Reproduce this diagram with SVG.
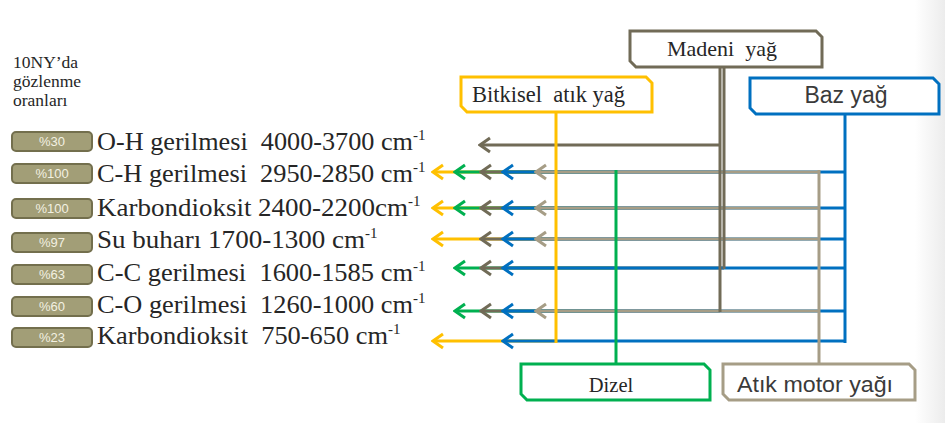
<svg xmlns="http://www.w3.org/2000/svg" width="945" height="423" viewBox="0 0 945 423">
  <defs>
    <style>
      .serif{font-family:"Liberation Serif","Times New Roman",serif;fill:#262626}
      .sans{font-family:"Liberation Sans",Arial,sans-serif;fill:#3a3a3a}
      .lbl{font-size:26px;white-space:pre}
      .sup{font-size:15px}
      .badge rect{fill:#a29e77;stroke:#736f4d;stroke-width:2}
      .badge text{font-family:"Liberation Sans",Arial,sans-serif;font-size:13px;fill:#f3f1e2;text-anchor:middle}
      .box{fill:#ffffff;stroke-width:3}
      .h{fill:none;stroke-width:3}
      .yel{stroke:#ffc000}
      .grn{stroke:#00b050}
      .brn{stroke:#716b57}
      .blu{stroke:#0070c0}
      .bei{stroke:#a69d86}
    </style>
    <marker id="aY" markerUnits="userSpaceOnUse" viewBox="-12 -9 14 18" markerWidth="14" markerHeight="18" refX="0" refY="0" orient="auto"><path d="M-10,-7 L0,0 L-10,7" fill="none" stroke="#ffc000" stroke-width="3"/></marker>
    <marker id="aG" markerUnits="userSpaceOnUse" viewBox="-12 -9 14 18" markerWidth="14" markerHeight="18" refX="0" refY="0" orient="auto"><path d="M-10,-7 L0,0 L-10,7" fill="none" stroke="#00b050" stroke-width="3"/></marker>
    <marker id="aR" markerUnits="userSpaceOnUse" viewBox="-12 -9 14 18" markerWidth="14" markerHeight="18" refX="0" refY="0" orient="auto"><path d="M-10,-7 L0,0 L-10,7" fill="none" stroke="#716b57" stroke-width="3"/></marker>
    <marker id="aB" markerUnits="userSpaceOnUse" viewBox="-12 -9 14 18" markerWidth="14" markerHeight="18" refX="0" refY="0" orient="auto"><path d="M-10,-7 L0,0 L-10,7" fill="none" stroke="#0070c0" stroke-width="3"/></marker>
    <marker id="aE" markerUnits="userSpaceOnUse" viewBox="-12 -9 14 18" markerWidth="14" markerHeight="18" refX="0" refY="0" orient="auto"><path d="M-10,-7 L0,0 L-10,7" fill="none" stroke="#a69d86" stroke-width="3"/></marker>
    <linearGradient id="edge" x1="0" y1="0" x2="1" y2="0">
      <stop offset="0" stop-color="#ffffff"/>
      <stop offset="1" stop-color="#ececec"/>
    </linearGradient>
  </defs>
  <rect x="0" y="0" width="945" height="423" fill="#ffffff"/>
  <rect x="915" y="0" width="30" height="423" fill="url(#edge)"/>

  <g id="header">
    <text class="serif" x="13" y="68" font-size="17.5">10NY’da</text>
    <text class="serif" x="13" y="87" font-size="17.5">gözlenme</text>
    <text class="serif" x="13" y="106" font-size="17.5">oranları</text>
  </g>

  <g id="badges">
    <g class="badge" id="b1"><rect x="12" y="132" width="80" height="19" rx="4"/><text x="52" y="146">%30</text></g>
    <g class="badge" id="b2"><rect x="12" y="164" width="80" height="19" rx="4"/><text x="52" y="178">%100</text></g>
    <g class="badge" id="b3"><rect x="12" y="199" width="80" height="19" rx="4"/><text x="52" y="213">%100</text></g>
    <g class="badge" id="b4"><rect x="12" y="233" width="80" height="19" rx="4"/><text x="52" y="247">%97</text></g>
    <g class="badge" id="b5"><rect x="12" y="265" width="80" height="19" rx="4"/><text x="52" y="279">%63</text></g>
    <g class="badge" id="b6"><rect x="12" y="297" width="80" height="19" rx="4"/><text x="52" y="311">%60</text></g>
    <g class="badge" id="b7"><rect x="12" y="328" width="80" height="19" rx="4"/><text x="52" y="342">%23</text></g>
  </g>

  <g id="labels">
    <g id="l1"><text class="serif lbl" x="97" y="150" textLength="316" lengthAdjust="spacingAndGlyphs" xml:space="preserve">O-H gerilmesi  4000-3700 cm</text><text class="serif sup" x="413" y="140">-1</text></g>
    <g id="l2"><text class="serif lbl" x="97" y="182" textLength="316" lengthAdjust="spacingAndGlyphs" xml:space="preserve">C-H gerilmesi  2950-2850 cm</text><text class="serif sup" x="413" y="172">-1</text></g>
    <g id="l3"><text class="serif lbl" x="97" y="216" textLength="311" lengthAdjust="spacingAndGlyphs">Karbondioksit 2400-2200cm</text><text class="serif sup" x="408" y="206">-1</text></g>
    <g id="l4"><text class="serif lbl" x="97" y="248" textLength="268" lengthAdjust="spacingAndGlyphs">Su buharı 1700-1300 cm</text><text class="serif sup" x="365" y="238">-1</text></g>
    <g id="l5"><text class="serif lbl" x="97" y="281" textLength="316" lengthAdjust="spacingAndGlyphs" xml:space="preserve">C-C gerilmesi  1600-1585 cm</text><text class="serif sup" x="413" y="271">-1</text></g>
    <g id="l6"><text class="serif lbl" x="97" y="313" textLength="316" lengthAdjust="spacingAndGlyphs" xml:space="preserve">C-O gerilmesi  1260-1000 cm</text><text class="serif sup" x="413" y="303">-1</text></g>
    <g id="l7"><text class="serif lbl" x="97" y="344" textLength="291" lengthAdjust="spacingAndGlyphs" xml:space="preserve">Karbondioksit  750-650 cm</text><text class="serif sup" x="388" y="334">-1</text></g>
  </g>

  <g id="connectors">
    <line class="h yel" x1="556" y1="172" x2="433" y2="172" marker-end="url(#aY)"/>
    <line class="h yel" x1="556" y1="208" x2="433" y2="208" marker-end="url(#aY)"/>
    <line class="h yel" x1="556" y1="239" x2="433" y2="239" marker-end="url(#aY)"/>
    <line class="h yel" x1="556" y1="341" x2="433" y2="341" marker-end="url(#aY)"/>
    <line class="h grn" x1="616" y1="172" x2="455" y2="172" marker-end="url(#aG)"/>
    <line class="h grn" x1="616" y1="208" x2="455" y2="208" marker-end="url(#aG)"/>
    <line class="h grn" x1="616" y1="268" x2="455" y2="268" marker-end="url(#aG)"/>
    <line class="h grn" x1="616" y1="311" x2="455" y2="311" marker-end="url(#aG)"/>
    <line class="h brn" x1="720" y1="145" x2="480" y2="145" marker-end="url(#aR)"/>
    <line class="h brn" x1="720" y1="172" x2="481" y2="172" marker-end="url(#aR)"/>
    <line class="h brn" x1="720" y1="208" x2="481" y2="208" marker-end="url(#aR)"/>
    <line class="h brn" x1="720" y1="239" x2="481" y2="239" marker-end="url(#aR)"/>
    <line class="h brn" x1="724" y1="268" x2="481" y2="268" marker-end="url(#aR)"/>
    <line class="h brn" x1="720" y1="311" x2="481" y2="311" marker-end="url(#aR)"/>
    <line class="h blu" stroke-width="4" x1="845" y1="172" x2="503" y2="172" marker-end="url(#aB)"/>
    <line class="h blu" stroke-width="4" x1="845" y1="208" x2="503" y2="208" marker-end="url(#aB)"/>
    <line class="h blu" stroke-width="4" x1="845" y1="239" x2="503" y2="239" marker-end="url(#aB)"/>
    <line class="h blu" stroke-width="4" x1="845" y1="268" x2="503" y2="268" marker-end="url(#aB)"/>
    <line class="h blu" stroke-width="4" x1="845" y1="311" x2="503" y2="311" marker-end="url(#aB)"/>
    <line class="h blu" stroke-width="4" x1="845" y1="341" x2="503" y2="341" marker-end="url(#aB)"/>
    <line class="h bei" x1="819" y1="172" x2="536" y2="172" marker-end="url(#aE)"/>
    <line class="h bei" x1="819" y1="208" x2="536" y2="208" marker-end="url(#aE)"/>
    <line class="h bei" x1="819" y1="239" x2="536" y2="239" marker-end="url(#aE)"/>
    <line class="h bei" x1="819" y1="311" x2="536" y2="311" marker-end="url(#aE)"/>
    <line class="h yel" stroke-width="4" x1="556" y1="112" x2="556" y2="343"/>
    <line class="h grn" stroke-width="3.5" x1="616" y1="170" x2="616" y2="363"/>
    <line class="h brn" stroke-width="2.5" x1="720" y1="67" x2="720" y2="312"/>
    <line class="h brn" stroke-width="2.5" x1="724" y1="67" x2="724" y2="269"/>
    <line class="h bei" stroke-width="3" x1="819" y1="170" x2="819" y2="363"/>
    <line class="h blu" stroke-width="4.5" x1="845" y1="114" x2="845" y2="343"/>
  </g>

  <g id="madeni">
    <path class="box brn" d="M630,31 H816 L822,37 V67 H636 L630,61 Z"/>
    <text class="serif" x="722" y="56" font-size="22" text-anchor="middle" xml:space="preserve">Madeni  yağ</text>
  </g>
  <g id="bitkisel">
    <path class="box yel" d="M461,77 H646 L652,83 V112 H467 L461,106 Z"/>
    <text class="serif" x="472" y="102" font-size="22.5" xml:space="preserve">Bitkisel  atık yağ</text>
  </g>
  <g id="baz">
    <path class="box blu" d="M750,78 H933 L939,84 V114 H756 L750,108 Z"/>
    <text class="sans" x="846" y="103" font-size="23" text-anchor="middle">Baz yağ</text>
  </g>
  <g id="dizel">
    <path class="box grn" d="M521,364 H704 L710,370 V400 H527 L521,394 Z"/>
    <text class="serif" x="611" y="392" font-size="20.5" text-anchor="middle">Dizel</text>
  </g>
  <g id="atik">
    <path class="box bei" d="M723,364 H909 L915,370 V400 H729 L723,394 Z"/>
    <text class="sans" x="737" y="392" font-size="22.5" textLength="156" lengthAdjust="spacingAndGlyphs">Atık motor yağı</text>
  </g>
</svg>
